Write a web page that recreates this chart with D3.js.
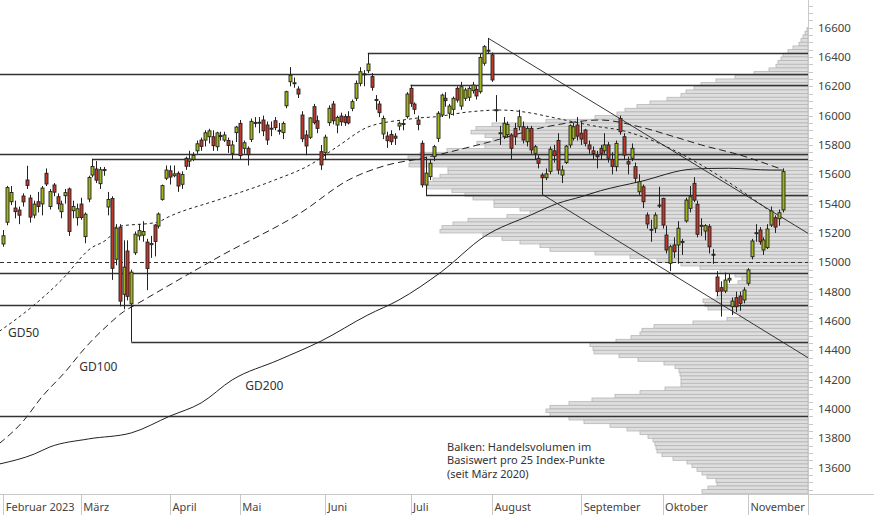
<!DOCTYPE html>
<html>
<head>
<meta charset="utf-8">
<script src="https://cdn.jsdelivr.net/npm/d3@7/dist/d3.min.js"></script>
<style>
body { margin: 0; background: #fff; }
svg { display: block; font-family: "Noto Sans", "Open Sans", sans-serif; }
</style>
</head>
<body>
<svg id="chart" width="874" height="515"></svg>
<script>
/// DATA ///
// trading-day index 0 = 1 Feb 2023, 201 = 14 Nov 2023
var months = ["Februar 2023", "März", "April", "Mai", "Juni", "Juli", "August", "September", "Oktober", "November"];
var monthStart = [0, 20, 43, 61, 83, 105, 126, 149, 170, 192];

var opens = [
  15125,15273,15413,15370,15356,15452,15561,15438,15322,15413,15398,15607,15380,15527,15447,15345,15454,15500,15352,15304,
  15397,15175,15431,15595,15636,15536,15625,15377,15435,15021,15240,14782,15077,14717,15065,15180,15185,15138,15120,15254,15247,15429,15573,
  15624,15590,15607,15532,15709,15690,15702,15760,15833,15833,15856,15856,15788,15860,15833,15830,15743,15884,
  15947,15777,15777,15838,15950,15950,15970,15936,15910,15965,15900,15884,16067,16231,16224,16181,16004,15868,15852,16061,15965,15754,
  15747,15952,16079,15936,15997,15993,15993,16050,16118,16220,16285,16306,16266,16110,16079,15875,15861,15872,15860,15929,15946,15993,
  16186,16079,15970,15811,15527,15584,15720,15845,16004,16118,16016,16043,16186,16065,16118,16125,16170,16179,16163,16357,16445,
  16414,16040,15880,15856,15870,15868,15913,15924,15924,15822,15913,15743,15709,15595,15577,15620,15760,15830,15595,15680,15800,15845,15936,
  15880,15902,15800,15760,15730,15777,15760,15800,15700,15652,15981,15856,15686,15709,15652,15481,15515,15322,15225,15232,15390,
  15436,15186,14993,15118,15118,15138,15282,15368,15538,15395,15250,15213,15243,15055,14900,14827,14804,14879,14697,14759,14770,14743,
  14857,15038,15200,15220,15084,15100,15254,15304,15297,15357
];
var highs = [
  15220,15521,15520,15420,15380,15470,15658,15460,15420,15480,15520,15640,15500,15540,15470,15420,15500,15510,15420,15400,
  15440,15340,15590,15706,15690,15650,15650,15480,15450,15260,15260,15150,15150,14950,15210,15260,15280,15160,15180,15260,15340,15530,15660,
  15660,15660,15620,15620,15720,15760,15750,15830,15850,15900,15910,15900,15890,15890,15890,15850,15830,15930,
  15970,15830,15790,15980,15990,15990,16000,15960,15960,15990,15950,15960,16170,16331,16260,16200,16030,15900,15990,16080,16000,15800,
  15870,16070,16100,16000,16020,16010,16030,16110,16240,16330,16310,16427,16290,16140,16100,16000,15890,15900,15880,15960,15970,16160,
  16210,16090,16000,15830,15720,15700,15800,16030,16150,16160,16080,16130,16200,16230,16190,16200,16230,16200,16420,16480,16528,
  16430,16140,15930,15990,15960,15880,15950,16040,15960,15930,15930,15800,15730,15610,15640,15790,15800,15880,15660,15800,15940,15950,15990,
  15960,15910,15830,15790,15760,15800,15880,15820,15750,15830,16000,15880,15720,15810,15680,15600,15530,15340,15290,15340,15515,
  15440,15250,15120,15170,15280,15160,15440,15520,15580,15420,15300,15260,15260,15090,14940,14870,14930,14920,14760,14800,14800,14830,
  14960,15160,15260,15240,15170,15260,15380,15320,15360,15640
];
var lows = [
  15106,15252,15390,15300,15260,15380,15500,15270,15300,15340,15320,15520,15360,15450,15360,15300,15400,15180,15300,15250,
  15290,15130,15410,15580,15540,15500,15590,15320,14880,14980,14700,14680,14740,14458,15050,15150,15140,14810,15030,15040,15230,15420,15560,
  15530,15580,15480,15500,15630,15650,15690,15740,15760,15790,15810,15760,15760,15830,15820,15746,15700,15820,
  15700,15740,15660,15820,15920,15880,15860,15800,15860,15900,15870,15840,16050,16200,16190,16120,15820,15730,15840,15940,15880,15630,
  15700,15930,15940,15880,15930,15930,15940,16030,16100,16200,16200,16290,16170,16040,15990,15840,15780,15800,15800,15900,15900,15980,
  16060,16010,15900,15510,15456,15560,15690,15820,15990,16060,15980,16000,16090,16040,16100,16100,16150,16110,16150,16340,16420,
  16230,15958,15800,15840,15850,15700,15800,15900,15810,15790,15740,15700,15640,15463,15560,15600,15680,15600,15540,15670,15780,15830,15830,
  15800,15790,15740,15700,15640,15700,15740,15680,15600,15620,15870,15700,15600,15690,15540,15460,15370,15230,15140,15200,15370,
  15230,15060,14940,15030,14990,15050,15270,15340,15410,15170,15180,15150,15060,14990,14770,14630,14790,14860,14640,14660,14670,14720,
  14840,15020,15140,15120,15050,15090,15240,15200,15250,15340
];
var closes = [
  15181,15509,15476,15345,15321,15412,15524,15308,15397,15381,15506,15534,15482,15478,15399,15397,15475,15210,15381,15365,
  15305,15328,15578,15653,15560,15631,15633,15428,14959,15233,14735,14967,14768,14933,15192,15216,15210,14957,15128,15142,15329,15523,15629,
  15581,15603,15520,15598,15655,15704,15729,15808,15790,15883,15896,15795,15882,15864,15868,15796,15800,15922,
  15727,15815,15734,15961,15953,15955,15896,15834,15914,15918,15897,15947,16163,16275,16224,16147,15842,15793,15984,15952,15913,15664,
  15853,16050,15965,15988,15958,15952,15950,16095,16220,16299,16282,16352,16193,16106,16020,15981,15829,15822,15846,15948,15946,16147,
  16084,16043,15940,15528,15608,15675,15788,16016,16140,16102,16065,16118,16106,16197,16175,16186,16208,16134,16397,16470,16446,
  16243,16035,15883,15948,15940,15777,15856,15992,15834,15913,15766,15788,15675,15577,15603,15771,15729,15629,15629,15792,15931,15924,15860,
  15840,15811,15772,15742,15719,15743,15800,15709,15654,15811,15890,15731,15670,15777,15573,15549,15413,15261,15220,15322,15387,
  15254,15084,15106,15072,15232,15142,15424,15447,15424,15191,15252,15250,15106,15050,14800,14804,14879,14891,14736,14697,14720,14811,
  14948,15145,15202,15140,15152,15227,15350,15240,15338,15618
];

// Gleitende Durchschnitte (GD): [Handelstag-Index], [Punkte]
var gd50Idx = [-1, 7, 15, 22, 28, 29, 40, 42, 56, 70, 79, 86, 94, 99, 103, 107, 111, 120, 128, 136, 141, 154, 159, 165, 180, 190, 198];
var gd50Val = [14530, 14688, 14879, 15084, 15193, 15241, 15275, 15302, 15431, 15561, 15663, 15786, 15922, 15956, 15970, 15984, 15991, 16025, 16038, 16018, 15991, 15922, 15902, 15854, 15663, 15493, 15343];
var gd100Idx = [-1, 5, 10, 16, 21, 27, 31, 34, 56, 77, 89, 99, 108, 124, 141, 154, 164, 173, 180, 190, 200];
var gd100Val = [13765, 13913, 14084, 14254, 14414, 14573, 14663, 14709, 15043, 15343, 15561, 15663, 15709, 15811, 15929, 15970, 15924, 15856, 15800, 15731, 15641];
var gd200Idx = [-1, 8, 12, 22, 33, 43, 51, 59, 71, 82, 94, 102, 113, 124, 136, 143, 149, 154, 164, 178, 187, 198, 201];
var gd200Val = [13625, 13693, 13741, 13796, 13837, 13952, 14041, 14198, 14334, 14464, 14641, 14743, 14936, 15175, 15322, 15402, 15447, 15488, 15549, 15636, 15641, 15629, 15629];

// Unterstuetzungen / Widerstaende (from = Start-Index, -1 = ganze Breite)
var levelPrice = [16425, 16282, 16207, 15736, 15702, 15457, 14925, 14707, 14459, 13952];
var levelFrom  = [94, -1, 105, -1, 23, 109, -1, -1, 33, -1];

// Trendkanal: [i0, p0, i1, p1]
var trendLines = [[125, 16528, 180, 15641], [139, 15463, 198, 14504]];

// Volumenprofil, 25-Punkte-Stufen von oben (16575) nach unten
var profileTop = 16575;
var profileVol = [
  1, 3, 5, 7, 9, 15, 20, 25, 27, 30, 32, 39, 54, 73, 92, 107, 114, 122, 127, 141, 158, 171, 183, 191,
  213, 262, 316, 332, 337, 323, 315, 331, 323, 361, 388, 400, 398, 399, 360, 360, 368, 375, 382, 381,
  356, 343, 335, 314, 314, 288, 278, 301, 340, 355, 366, 368, 325, 306, 288, 268, 258, 213, 178, 151,
  127, 108, 88, 73, 66, 70, 81, 86, 88, 91, 105, 103, 100, 75, 68, 81, 115, 154, 166, 168,
  177, 192, 218, 215, 214, 189, 170, 144, 133, 129, 128, 127, 127, 127, 143, 168, 193, 216, 239, 258,
  262, 258, 239, 224, 198, 181, 168, 160, 155, 153, 152, 151, 146, 135, 121, 116, 111, 106, 101, 92,
  91, 100, 106
];

/// SETTINGS ///
var plotRight = 808, plotBottom = 494;
var svg = d3.select("#chart");

var x = d3.scaleLinear().domain([0, 201]).range([3.3, 782.8]);
var y = d3.scaleLinear().domain([15000, 16600]).range([262.3, 27.6]);
var vol = d3.scaleLinear().domain([0, 400]).range([plotRight, 408]);

svg.append("clipPath").attr("id", "plot")
  .append("rect").attr("x", 0).attr("y", 0).attr("width", plotRight).attr("height", plotBottom);

var g = svg.append("g").attr("clip-path", "url(#plot)");

// volume profile
g.append("g").selectAll("rect")
  .data(profileVol)
  .enter().append("rect")
    .attr("x", function(d) { return vol(d); })
    .attr("y", function(d, i) { return y(profileTop - i * 25 + 25); })
    .attr("width", function(d) { return plotRight - vol(d); })
    .attr("height", function(d, i) { return y(profileTop - i * 25) - y(profileTop - i * 25 + 25); })
    .attr("fill", "#dedede")
    .attr("stroke", "#b5b5b5")
    .attr("stroke-width", 0.8);

// horizontal levels
g.append("g").selectAll("line")
  .data(levelPrice)
  .enter().append("line")
    .attr("x1", function(d, i) { return levelFrom[i] < 0 ? 0 : x(levelFrom[i]); })
    .attr("x2", plotRight)
    .attr("y1", function(d) { return Math.round(y(d)) + 0.5; })
    .attr("y2", function(d) { return Math.round(y(d)) + 0.5; })
    .attr("stroke", "#333")
    .attr("stroke-width", 1.3);

// 15000 dashed
g.append("line")
  .attr("x1", 0).attr("x2", plotRight)
  .attr("y1", Math.round(y(15000)) + 0.5).attr("y2", Math.round(y(15000)) + 0.5)
  .attr("stroke", "#333").attr("stroke-width", 1.1)
  .attr("stroke-dasharray", "4,3");

// trend channel
var xEnd = x.invert(plotRight);
g.append("g").selectAll("line")
  .data(trendLines)
  .enter().append("line")
    .attr("x1", function(d) { return x(d[0]); })
    .attr("y1", function(d) { return y(d[1]); })
    .attr("x2", plotRight)
    .attr("y2", function(d) { return y(d[1] + (d[3] - d[1]) / (d[2] - d[0]) * (xEnd - d[0])); })
    .attr("stroke", "#222")
    .attr("stroke-width", 0.9);

// moving averages
function gdLine(idx, val, dash) {
  var pts = idx.map(function(d, i) { return [d, val[i]]; });
  g.append("path")
    .datum(pts)
    .attr("fill", "none")
    .attr("stroke", "#222")
    .attr("stroke-width", 1)
    .attr("stroke-dasharray", dash)
    .attr("d", d3.line()
      .x(function(d) { return x(d[0]); })
      .y(function(d) { return y(d[1]); })
      .curve(d3.curveMonotoneX));
}
gdLine(gd200Idx, gd200Val, null);
gdLine(gd100Idx, gd100Val, "7,4");
gdLine(gd50Idx, gd50Val, "3,3");

// candles
var candles = g.append("g").selectAll("g")
  .data(closes)
  .enter().append("g");

candles.append("line")
  .attr("x1", function(d, i) { return Math.round(x(i)) + 0.5; })
  .attr("x2", function(d, i) { return Math.round(x(i)) + 0.5; })
  .attr("y1", function(d, i) { return y(highs[i]); })
  .attr("y2", function(d, i) { return y(lows[i]); })
  .attr("stroke", "#222")
  .attr("stroke-width", 1);

candles.append("rect")
  .attr("x", function(d, i) { return Math.round(x(i)) - 1; })
  .attr("y", function(d, i) { return y(Math.max(opens[i], d)); })
  .attr("width", 3)
  .attr("height", function(d, i) { return Math.max(1, Math.abs(y(opens[i]) - y(d))); })
  .attr("fill", function(d, i) { return d >= opens[i] ? "#a2b41c" : "#c0392b"; })
  .attr("stroke", "#222")
  .attr("stroke-width", 0.9);

// GD labels
var gdLabels = [["GD50", 1.2, 14494], ["GD100", 19.6, 14258], ["GD200", 62.4, 14132]];
svg.append("g").selectAll("text")
  .data(gdLabels)
  .enter().append("text")
    .attr("x", function(d) { return x(d[1]); })
    .attr("y", function(d) { return y(d[2]); })
    .attr("font-size", "12px")
    .attr("fill", "#333")
    .text(function(d) { return d[0]; });

// note
var note = ["Balken: Handelsvolumen im", "Basiswert pro 25 Index-Punkte", "(seit März 2020)"];
svg.append("g").selectAll("text")
  .data(note)
  .enter().append("text")
    .attr("x", 447)
    .attr("y", function(d, i) { return 451 + i * 13.3; })
    .attr("font-size", "11px")
    .attr("fill", "#333")
    .text(function(d) { return d; });

/// AXES ///
var axisColor = "#c8c8c8";

// y axis (right)
svg.append("line")
  .attr("x1", plotRight + 0.5).attr("x2", plotRight + 0.5)
  .attr("y1", 0).attr("y2", 515)
  .attr("stroke", axisColor);

svg.append("g").selectAll("line")
  .data(d3.range(13450, 16800, 50))
  .enter().append("line")
    .attr("x1", plotRight).attr("x2", plotRight + 5)
    .attr("y1", function(d) { return Math.round(y(d)) + 0.5; })
    .attr("y2", function(d) { return Math.round(y(d)) + 0.5; })
    .attr("stroke", axisColor);

svg.append("g").selectAll("text")
  .data(d3.range(13600, 16601, 200))
  .enter().append("text")
    .attr("x", 818)
    .attr("y", function(d) { return y(d); })
    .attr("dy", "0.35em")
    .attr("font-size", "11.5px")
    .attr("fill", "#444")
    .text(function(d) { return d; });

// x axis (months)
svg.append("line")
  .attr("x1", 0).attr("x2", 874)
  .attr("y1", plotBottom + 0.5).attr("y2", plotBottom + 0.5)
  .attr("stroke", axisColor);

svg.append("g").selectAll("line")
  .data(monthStart)
  .enter().append("line")
    .attr("x1", function(d) { return Math.round(x(d)) + 0.5; })
    .attr("x2", function(d) { return Math.round(x(d)) + 0.5; })
    .attr("y1", plotBottom).attr("y2", 515)
    .attr("stroke", axisColor);

svg.append("g").selectAll("text")
  .data(months)
  .enter().append("text")
    .attr("x", function(d, i) { return x(monthStart[i]) + 2.5; })
    .attr("y", 511)
    .attr("font-size", "11px")
    .attr("fill", "#444")
    .text(function(d) { return d; });
</script>
</body>
</html>
